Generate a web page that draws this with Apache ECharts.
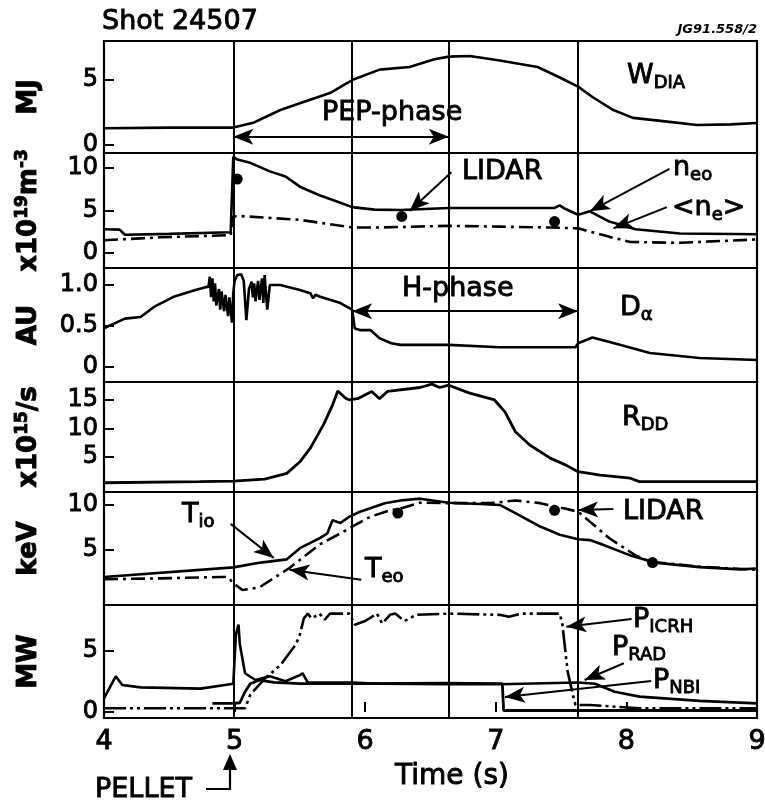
<!DOCTYPE html>
<html><head><meta charset="utf-8">
<script src="https://cdn.jsdelivr.net/npm/echarts@6/dist/echarts.min.js"></script>
<style>html,body{margin:0;padding:0;background:#fff}#c{width:765px;height:803px}</style>
</head><body><div id="c"></div>
<script>
const FONT = 'DejaVu Sans';

// Time axis (s)
const timeRange = [4, 9];
const timeTicks = [4, 5, 6, 7, 8, 9];
// Pellet, start of H-phase, end of PEP-phase, end of H-phase
const eventTimes = [4.99, 5.90, 6.64, 7.63];

// Diamagnetic stored energy (MJ)
const wdia = [[4.00,1.30],[4.50,1.35],[4.99,1.35],[5.15,1.75],[5.35,2.70],[5.55,3.40],[5.73,4.00],[5.90,5.00],[6.11,5.80],[6.34,6.00],[6.53,6.60],[6.64,6.80],[6.80,6.85],[7.03,6.50],[7.32,6.00],[7.49,5.20],[7.63,4.50],[7.74,3.70],[7.90,2.70],[8.05,2.10],[8.28,1.85],[8.54,1.55],[8.80,1.60],[9.00,1.70]];

// Density (1e19 m^-3): central and volume average
const neo = [[4.00,2.80],[4.12,2.75],[4.16,2.15],[4.50,2.25],[4.97,2.45],[4.99,11.3],[5.02,11.0],[5.12,10.6],[5.27,9.6],[5.39,9.0],[5.50,7.8],[5.65,6.8],[5.81,5.9],[5.90,5.4],[6.07,5.1],[6.27,5.05],[6.64,5.3],[7.03,5.3],[7.45,5.3],[7.49,5.6],[7.53,5.2],[7.63,4.5],[7.72,4.9],[7.87,3.7],[8.07,2.8],[8.41,2.3],[9.00,2.2]];
const neAvg = [[4.00,1.5],[4.43,1.85],[4.97,2.1],[4.99,4.3],[5.04,4.35],[5.50,3.9],[5.90,3.0],[6.11,3.0],[6.64,3.2],[7.03,3.1],[7.42,3.0],[7.63,2.9],[7.87,1.9],[8.03,1.3],[8.41,1.2],[9.00,1.6]];
const lidarNe = [[5.02,8.7],[6.28,4.3],[7.45,3.7]];

// D-alpha emission (AU)
const dAlpha = [[4.00,0.47],[4.05,0.51],[4.16,0.59],[4.28,0.61],[4.39,0.74],[4.54,0.86],[4.70,0.94],[4.77,0.97],
  [4.80,0.98],[4.81,1.10],[4.82,0.85],[4.83,1.08],[4.84,0.80],[4.85,1.02],[4.86,0.75],[4.88,0.95],[4.89,0.70],[4.90,0.92],[4.92,0.68],[4.93,0.88],[4.95,0.62],[4.96,0.85],[4.98,0.54],[4.99,0.90],[5.00,1.05],[5.02,1.12],[5.05,1.13],[5.07,1.05],[5.09,0.57],[5.11,0.95],[5.13,1.04],[5.14,0.85],[5.15,1.02],[5.16,0.80],[5.18,1.05],[5.19,0.82],[5.21,1.08],[5.22,0.78],[5.23,1.12],[5.25,0.70],[5.27,1.00],
  [5.35,1.00],[5.50,0.94],[5.58,0.90],[5.60,0.84],[5.62,0.88],[5.65,0.86],[5.81,0.78],[5.90,0.70],[5.92,0.47],[5.96,0.45],[6.04,0.45],[6.11,0.35],[6.20,0.29],[6.27,0.27],[6.64,0.27],[7.03,0.24],[7.61,0.24],[7.63,0.29],[7.74,0.36],[7.95,0.27],[8.18,0.17],[8.56,0.11],[9.00,0.085]];

// D-D neutron rate (1e15 /s)
const rdd = [[4.00,0.4],[4.73,0.6],[4.99,0.7],[5.23,1.05],[5.40,2.05],[5.50,4.1],[5.58,6.5],[5.68,10.6],[5.75,14.1],[5.79,16.6],[5.85,15.3],[5.88,15.0],[5.95,15.3],[6.05,16.5],[6.11,15.2],[6.17,16.5],[6.42,17.2],[6.51,17.8],[6.57,17.2],[6.64,17.6],[6.80,16.2],[6.99,15.0],[7.07,12.9],[7.15,9.4],[7.26,7.05],[7.42,4.7],[7.53,3.6],[7.63,2.35],[7.80,1.76],[8.03,1.2],[8.10,0.6],[9.00,0.6]];

// Central ion and electron temperatures (keV)
const tio = [[4.00,2.0],[4.99,3.07],[5.20,3.6],[5.40,3.96],[5.50,5.2],[5.65,6.3],[5.71,6.85],[5.75,8.3],[5.81,8.0],[5.88,8.7],[5.96,9.25],[6.15,10.2],[6.27,10.5],[6.42,10.7],[6.64,10.25],[6.88,10.1],[7.03,10.0],[7.15,9.1],[7.34,7.6],[7.49,6.7],[7.63,6.2],[7.72,6.1],[7.80,5.7],[8.03,4.4],[8.22,3.6],[8.56,3.1],[8.87,2.85],[9.00,2.95]];
const teo = [[4.00,1.75],[4.43,1.85],[4.89,2.0],[4.95,2.0],[4.99,1.3],[5.06,0.55],[5.19,0.85],[5.42,3.0],[5.50,3.9],[5.65,5.6],[5.81,6.85],[5.90,7.6],[6.04,8.7],[6.19,9.4],[6.27,9.6],[6.42,10.25],[6.64,10.2],[6.96,10.2],[7.15,10.5],[7.34,10.2],[7.53,9.6],[7.63,9.25],[7.72,8.15],[7.87,6.3],[8.07,4.4],[8.18,3.7],[8.56,3.15],[9.00,2.8]];
const lidarTe = [[6.25,9.1],[7.45,9.4],[8.20,3.6]];

// Powers (MW)
const pRad = [[4.00,1.1],[4.06,2.3],[4.09,2.9],[4.14,2.2],[4.28,2.0],[4.74,1.9],[4.99,2.3],[5.01,6.3],[5.03,7.1],[5.04,5.5],[5.08,3.15],[5.16,2.6],[5.27,2.9],[5.39,2.5],[5.50,3.0],[5.52,3.15],[5.56,2.4],[5.90,2.4],[6.11,2.3],[6.64,2.25],[7.03,2.25],[7.63,2.4],[7.76,2.3],[7.91,1.65],[8.10,1.25],[8.56,0.9],[9.00,0.7]];
const pNbi = [[4.83,0.7],[4.99,0.7],[5.04,0.75],[5.08,1.65],[5.12,2.3],[5.19,2.6],[5.30,2.4],[5.50,2.3],[6.00,2.3],[6.60,2.35],[7.05,2.3],[7.06,0.12],[9.00,0.12]];
const pIcrh = [[4.00,0.30],[4.99,0.30],[5.08,0.30],[5.12,1.40],[5.23,2.70],[5.35,3.80],[5.42,4.80],[5.47,5.50],[5.50,6.30],[5.53,7.60],[5.56,8.00],[5.59,7.60],[5.65,8.00],[5.69,7.50],[5.73,8.00],[5.88,8.00],[5.92,7.10],[6.00,7.40],[6.09,8.00],[6.13,7.20],[6.19,7.90],[6.23,8.00],[6.30,7.40],[6.39,7.90],[6.64,8.00],[7.03,7.90],[7.10,7.75],[7.20,8.00],[7.49,8.00],[7.51,7.10],[7.55,3.30],[7.59,1.40],[7.61,0.57],[7.72,0.57],[8.10,0.30],[9.00,0.30]];

// Vertical axis tick values per panel
const yTicks = [[0,5],[0,5,10],[0,0.5,1],[5,10,15],[5,10],[0,5]];

const chart = echarts.init(document.getElementById('c'), null, {renderer:'canvas'});

const panels = [
  {top:41,  height:112, min:-0.6,  max:8.0,   name:'{b|MJ}'},
  {top:153, height:115, min:-1.76, max:11.76, name:'{b|x10}{sp|19}{b|m}{sp|-3}'},
  {top:268, height:114, min:-0.183,max:1.207, name:'{b|AU}'},
  {top:382, height:110, min:-1.23, max:18.17, name:'{b|x10}{sp|15}{b|/s}'},
  {top:492, height:113, min:-1.11, max:11.44, name:'{b|keV}'},
  {top:605, height:113, min:-0.49, max:8.7,   name:'{b|MW}'}
];

// Slight outline thickens the glyphs a little
const heavy = {textBorderColor:'#000', textBorderWidth:0.9};
const heavyRaw = {stroke:'#000', lineWidth:0.9};

const nameRich = {
  b:Object.assign({fontFamily:FONT, fontSize:26, fontWeight:'bold', color:'#000', lineHeight:30}, heavy),
  sp:Object.assign({fontFamily:FONT, fontSize:17, fontWeight:'bold', color:'#000', lineHeight:17, verticalAlign:'top'}, heavy)
};

const grids = panels.map(p => ({left:104, right:8, top:p.top, height:p.height, show:true,
  borderColor:'#000', borderWidth:2.2, backgroundColor:'transparent', containLabel:false, outerBoundsMode:'none'}));

const xAxes = panels.map((p,i) => {
  const last = i === panels.length-1;
  return {type:'value', gridIndex:i, min:timeRange[0], max:timeRange[1], interval:1,
    axisLine:{show:false}, splitLine:{show:false},
    axisTick:{show:last, inside:true, length:10, lineStyle:{color:'#000', width:2}, customValues:timeTicks},
    axisLabel:Object.assign({show:last, color:'#000', fontFamily:FONT, fontSize:27, margin:10, customValues:timeTicks}, heavy)};
});

const yAxes = panels.map((p,i) => ({type:'value', gridIndex:i, min:p.min, max:p.max,
  axisLine:{show:false}, splitLine:{show:false},
  axisTick:{show:true, inside:true, length:10, lineStyle:{color:'#000', width:2}, customValues:yTicks[i]},
  axisLabel:Object.assign({color:'#000', fontFamily:FONT, fontSize:24, margin:6, customValues:yTicks[i],
    formatter: v => (i===2 && v!==0) ? v.toFixed(1) : String(v)}, heavy),
  name:p.name, nameLocation:'middle', nameRotate:90, nameGap:60,
  nameTextStyle:{rich:nameRich}}));

const arrowEnd = {symbol:'arrow', symbolSize:[12,20]};
function arrow(t1,v1,t2,v2,both){
  return [Object.assign({coord:[t1,v1]}, both?arrowEnd:{symbol:'none'}), Object.assign({coord:[t2,v2]}, arrowEnd)];
}
const panelArrows = [
  [arrow(4.99,0.64,6.64,0.64,true)],
  [arrow(6.66,9.5,6.34,4.95), arrow(8.33,9.9,7.72,4.9), arrow(8.31,5.4,7.90,2.9)],
  [arrow(5.90,0.68,7.63,0.68,true)],
  [],
  [arrow(4.97,7.9,5.30,4.1), arrow(5.97,1.7,5.42,2.8), arrow(7.90,9.55,7.63,9.45)],
  [arrow(8.04,7.56,7.54,6.93), arrow(7.98,3.96,7.68,2.6), arrow(8.19,2.52,7.07,1.22)]
];

function markLines(i){
  return {silent:true, symbol:['none','none'], label:{show:false}, animation:false,
    lineStyle:{color:'#000', width:2, type:'solid'}, emphasis:{disabled:true},
    data: eventTimes.map(t => ({xAxis:t})).concat(panelArrows[i])};
}

function line(data, i, dash, width, withMarks){
  const s = {type:'line', xAxisIndex:i, yAxisIndex:i, data, showSymbol:false, symbol:'none',
    lineStyle:{color:'#000', width:width||2.6, type:dash||'solid'}, silent:true, animation:false, z:3};
  if (withMarks) s.markLine = markLines(i);
  return s;
}
function dots(data, i){
  return {type:'scatter', xAxisIndex:i, yAxisIndex:i, data, symbol:'circle', symbolSize:11,
    itemStyle:{color:'#000', opacity:1}, silent:true, animation:false, z:4};
}

const dashDot = [14,5,3,5];
const dashDotDot = [22,4,3,4,3,4];

const series = [
  line(wdia, 0, 'solid', 2.6, true),
  line(neo, 1, 'solid', 2.6, true),
  line(neAvg, 1, dashDot, 2.6),
  dots(lidarNe, 1),
  line(dAlpha, 2, 'solid', 2.6, true),
  line(rdd, 3, 'solid', 2.8, true),
  line(tio, 4, 'solid', 2.6, true),
  line(teo, 4, dashDot, 2.6),
  dots(lidarTe, 4),
  line(pRad, 5, 'solid', 2.6, true),
  line(pNbi, 5, 'solid', 2.8),
  line(pIcrh, 5, dashDotDot, 2.6)
];

const labRich = {
  m:Object.assign({fontFamily:FONT, fontSize:27, fill:'#000', lineHeight:32}, heavyRaw),
  s:Object.assign({fontFamily:FONT, fontSize:18, fill:'#000', lineHeight:18, verticalAlign:'bottom'}, heavyRaw)
};
function label(x, y, text){
  return {type:'text', x, y, silent:true, z:10,
    style:{text, align:'left', verticalAlign:'middle', fill:'#000', fontFamily:FONT, fontSize:27, rich:labRich}};
}

const graphics = [
  label(102, 22, '{m|Shot 24507}'),
  {type:'text', x:757, y:30, silent:true, style:{text:'JG91.558/2', align:'right', verticalAlign:'middle', fill:'#000', fontFamily:FONT, fontSize:13, fontWeight:'bold', fontStyle:'italic'}},
  label(322, 113, '{m|PEP-phase}'),
  label(627, 76, '{m|W}{s|DIA}'),
  label(462, 172, '{m|LIDAR}'),
  label(673, 168, '{m|n}{s|eo}'),
  label(672, 208, '{m|<n}{s|e}{m|>}'),
  label(402, 289, '{m|H-phase}'),
  label(620, 308, '{m|D}{s|α}'),
  label(622, 418, '{m|R}{s|DD}'),
  label(182, 515, '{m|T}{s|io}'),
  label(365, 570, '{m|T}{s|eo}'),
  label(623, 512, '{m|LIDAR}'),
  label(633, 620, '{m|P}{s|ICRH}'),
  label(612, 648, '{m|P}{s|RAD}'),
  label(653, 681, '{m|P}{s|NBI}'),
  label(95, 790, '{m|PELLET}'),
  {type:'text', x:452, y:777, silent:true, style:Object.assign({text:'Time (s)', align:'center', verticalAlign:'middle', fill:'#000', fontFamily:FONT, fontSize:28}, heavyRaw)},
  {type:'polyline', silent:true, shape:{points:[[206,789],[230,789],[230,766]]}, style:{stroke:'#000', lineWidth:2.2, fill:null}},
  {type:'polygon', silent:true, shape:{points:[[223,770],[237,770],[230,754]]}, style:{fill:'#000'}}
];

chart.setOption({
  animation:false,
  backgroundColor:'#fff',
  grid:grids, xAxis:xAxes, yAxis:yAxes, series, graphic:graphics
});
</script></body></html>
